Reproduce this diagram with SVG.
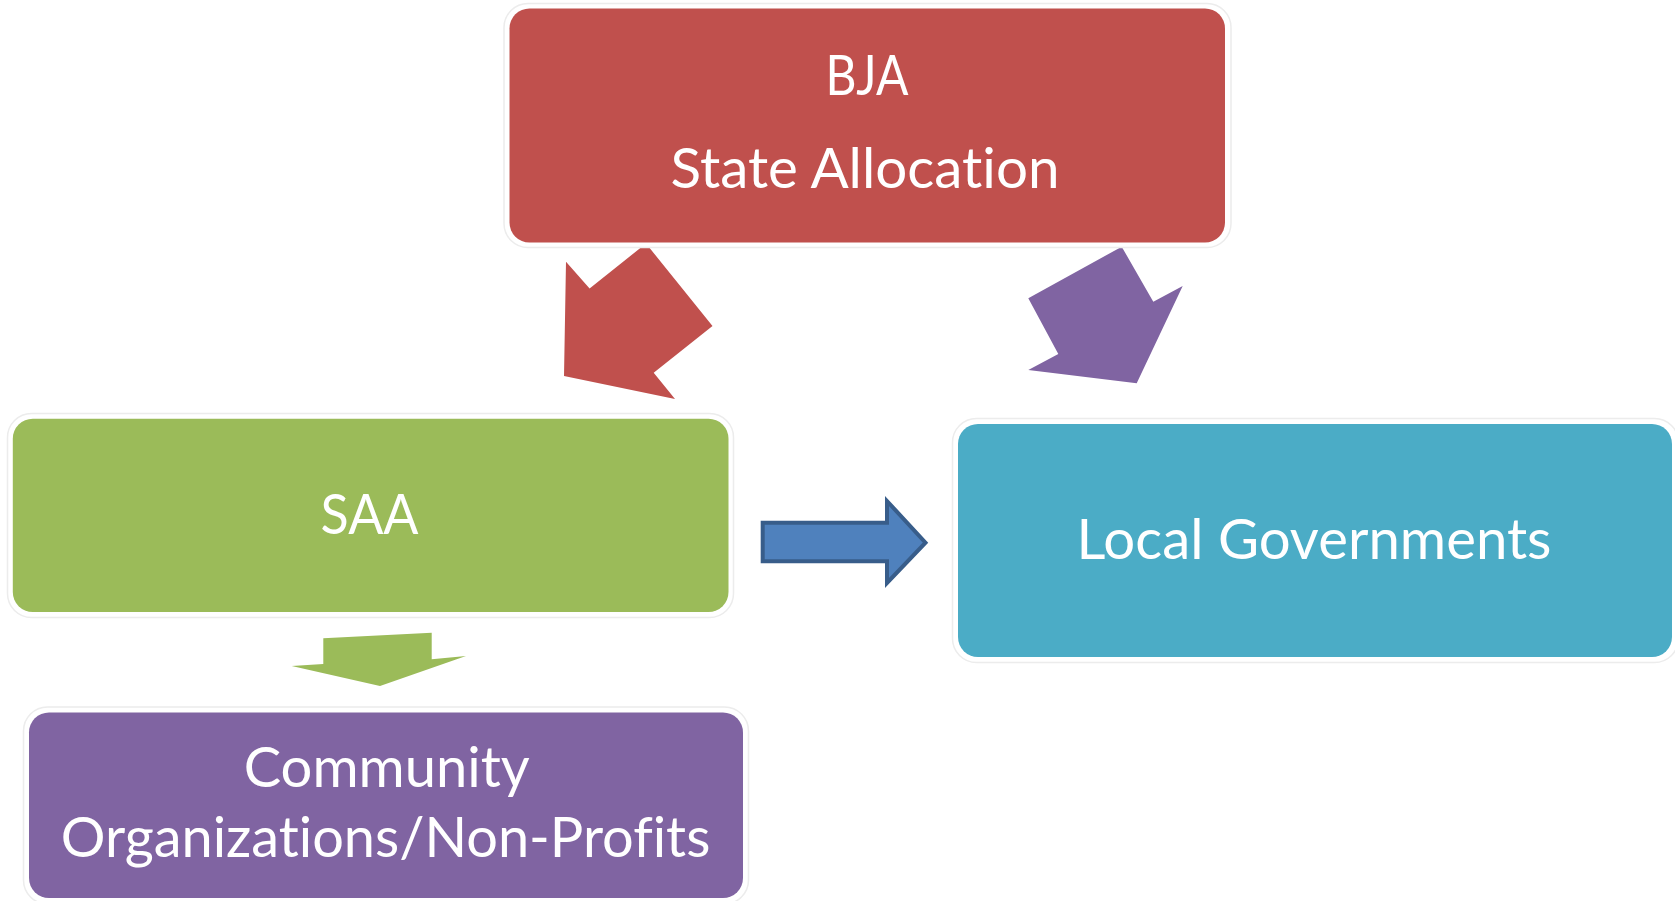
<svg xmlns="http://www.w3.org/2000/svg" width="1675" height="901" viewBox="0 0 1675 901">
<style>
.halo{fill:#fff;stroke:#ececec;stroke-width:1.5}
.lbl{font-family:Lato,"Liberation Sans",sans-serif;font-size:56px;fill:#fff;text-anchor:middle;font-variant-ligatures:none;font-feature-settings:"liga" 0,"clig" 0}
</style>
<rect width="1675" height="901" fill="#fff"/>
<g id="connectors">
<polygon points="646,243.5 712.5,326 653.7,372.8 675,399 564,376 566,261.7 589.6,288.4" fill="#C0504D"/>
<polygon points="1121.7,246.7 1153.3,301.7 1182.7,286 1136.7,383.3 1028.3,370 1058.3,354 1028.3,298.3" fill="#8064A2"/>
<polygon points="762.7,522.7 887,522.7 887,501 925.5,542.7 887,583 887,561.3 762.7,561.3" fill="#4F81BD" stroke="#385D8A" stroke-width="4" stroke-linejoin="miter"/>
<polygon points="323.3,638.3 431.7,632.7 431.7,659.3 466,656 380,686 291.7,666 323.3,664" fill="#9BBB59"/>
</g>
<g id="bja">
<rect class="halo" x="504" y="3.5" width="727" height="244" rx="24"/>
<rect x="509.5" y="8.5" width="715.5" height="234" rx="20" fill="#C0504D"/>
<text class="lbl" x="867" y="95" textLength="83" lengthAdjust="spacingAndGlyphs">BJA</text>
<text class="lbl" x="865" y="188" textLength="389" lengthAdjust="spacingAndGlyphs">State Allocation</text>
</g>
<g id="saa">
<rect class="halo" x="7.5" y="413.5" width="726" height="204" rx="24"/>
<rect x="12.8" y="418.7" width="715.7" height="193.3" rx="20" fill="#9BBB59"/>
<text class="lbl" x="369.6" y="534" textLength="98" lengthAdjust="spacingAndGlyphs">SAA</text>
</g>
<g id="local">
<rect class="halo" x="952.5" y="418.5" width="726" height="244" rx="24"/>
<rect x="958" y="424" width="714" height="233" rx="20" fill="#4BACC6"/>
<text class="lbl" x="1314" y="559" textLength="475" lengthAdjust="spacingAndGlyphs">Local Governments</text>
</g>
<g id="community">
<rect class="halo" x="23.5" y="707" width="725" height="197" rx="24"/>
<rect x="29" y="712.5" width="714" height="185.5" rx="20" fill="#8064A2"/>
<text class="lbl" x="386.7" y="787" textLength="286" lengthAdjust="spacingAndGlyphs">Community</text>
<text class="lbl" x="385.6" y="856.5" textLength="649.5" lengthAdjust="spacingAndGlyphs">Organizations/Non-Profits</text>
</g>
</svg>
